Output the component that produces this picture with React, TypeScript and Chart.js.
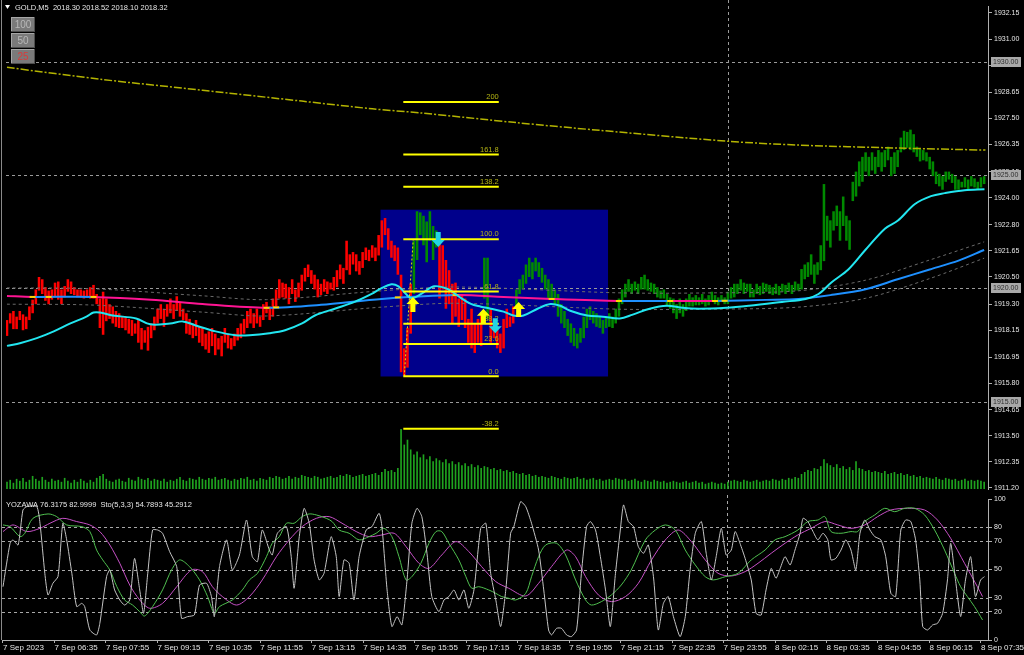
import React, { useEffect, useRef } from "react";
import { Chart, registerables } from "chart.js";

Chart.register(...registerables);

const FONT = "'Liberation Sans', Arial, sans-serif";

// ---------- axes / labels ----------
const xTickLabels = [
  "7 Sep 2023", "7 Sep 06:35", "7 Sep 07:55", "7 Sep 09:15", "7 Sep 10:35", "7 Sep 11:55",
  "7 Sep 13:15", "7 Sep 14:35", "7 Sep 15:55", "7 Sep 17:15", "7 Sep 18:35", "7 Sep 19:55",
  "7 Sep 21:15", "7 Sep 22:35", "7 Sep 23:55", "8 Sep 02:15", "8 Sep 03:35", "8 Sep 04:55",
  "8 Sep 06:15", "8 Sep 07:35",
];
const BARS_PER_LABEL = 16;
const priceTicks = [
  1932.15, 1931.0, 1929.85, 1928.65, 1927.5, 1926.35, 1925.15, 1924.0, 1922.8, 1921.65,
  1920.5, 1919.3, 1918.15, 1916.95, 1915.8, 1914.65, 1913.5, 1912.35, 1911.2,
];
const priceLevels = [1930, 1925, 1920, 1915];
const oscTicks = [100, 80, 70, 50, 30, 20, 0];
const oscLevels = [80, 70, 50, 30, 20];
const headerText = "GOLD,M5  2018.30 2018.52 2018.10 2018.32";
const oscTitle = "YOZAWA 76.3175 82.9999  Sto(5,3,3) 54.7893 45.2912";
const zoomButtons = ["100", "50", "25"];

const X_MIN = -0.31;
const X_MAX = 306.2;
const PRICE_MAX = 1932.457;
const PRICE_MIN = 1911.145;
const VOLUME_MAX = 9860;
const DAY_SEPARATOR = 225.2;

// ---------- price bars (low / high per 5-minute bar) ----------
const barLo = [
  1917.9, 1918.45, 1918.2, 1918.2, 1918.6, 1918.15, 1918.2, 1918.6, 1918.9, 1919.3,
  1919.9, 1919.75, 1919.45, 1919.3, 1919.5, 1919.6, 1919.5, 1919.3, 1919.6, 1919.85,
  1919.75, 1919.7, 1919.6, 1919.6, 1919.55, 1919.6, 1919.55, 1919.55, 1919.3, 1918.25,
  1917.95, 1918.55, 1918.65, 1918.45, 1918.3, 1918.25, 1918.25, 1918.15, 1918.0, 1917.9,
  1918.0, 1917.6, 1917.3, 1917.6, 1917.25, 1917.8, 1918.15, 1918.45, 1918.65, 1918.3,
  1918.75, 1918.9, 1918.65, 1919.0, 1918.75, 1918.6, 1918.0, 1917.95, 1917.8, 1917.9,
  1917.6, 1917.45, 1917.3, 1917.15, 1917.45, 1917.05, 1917.3, 1917.0, 1917.6, 1917.35,
  1917.3, 1917.45, 1917.7, 1917.8, 1918.0, 1918.25, 1918.45, 1918.25, 1918.45, 1918.3,
  1918.6, 1918.9, 1918.6, 1918.75, 1919.2, 1919.55, 1919.6, 1919.55, 1919.3, 1919.75,
  1919.4, 1919.6, 1919.9, 1920.3, 1920.5, 1920.2, 1919.95, 1919.6, 1919.7, 1919.85,
  1919.75, 1919.95, 1919.9, 1920.05, 1920.4, 1920.2, 1920.8, 1920.6, 1921.05, 1920.75,
  1920.6, 1920.9, 1921.25, 1921.2, 1921.35, 1921.2, 1921.45, 1921.8, 1922.35, 1921.7,
  1921.35, 1921.2, 1920.6, 1916.3, 1916.15, 1916.5, 1918.0, 1919.75, 1921.25, 1922.35,
  1921.9, 1921.15, 1922.1, 1921.25, 1921.8, 1919.55, 1919.95, 1919.1, 1919.3, 1918.45,
  1918.75, 1918.3, 1918.6, 1918.25, 1917.6, 1917.35, 1917.15, 1917.6, 1917.45, 1919.55,
  1918.65, 1917.6, 1917.8, 1917.35, 1917.15, 1917.35, 1918.25, 1918.3, 1918.45, 1919.1,
  1919.75, 1919.95, 1920.2, 1920.5, 1920.4, 1920.75, 1920.5, 1920.25, 1919.95, 1919.55,
  1919.55, 1919.3, 1918.75, 1918.45, 1918.25, 1917.9, 1917.6, 1917.45, 1917.35, 1917.6,
  1917.8, 1918.25, 1918.6, 1918.45, 1918.3, 1918.25, 1918.0, 1918.25, 1918.3, 1918.25,
  1918.45, 1918.75, 1919.3, 1919.6, 1919.85, 1919.75, 1919.9, 1919.75, 1919.95, 1919.95,
  1919.9, 1919.85, 1919.75, 1919.6, 1919.55, 1919.55, 1919.2, 1919.1, 1918.9, 1918.65,
  1918.9, 1918.75, 1919.0, 1919.2, 1919.2, 1919.25, 1919.25, 1919.3, 1919.2, 1919.25,
  1919.4, 1919.3, 1919.25, 1919.4, 1919.3, 1919.3, 1919.55, 1919.6, 1919.75, 1919.9,
  1919.75, 1919.85, 1919.6, 1919.6, 1919.75, 1919.7, 1919.75, 1919.85, 1919.75, 1919.7,
  1919.75, 1919.7, 1919.85, 1919.75, 1919.85, 1919.75, 1919.9, 1919.9, 1919.95, 1920.4,
  1920.5, 1920.6, 1920.2, 1920.6, 1920.8, 1921.2, 1922.1, 1921.8, 1922.55, 1922.75,
  1922.1, 1922.75, 1922.1, 1921.7, 1923.85, 1924.05, 1924.5, 1924.7, 1925.15, 1924.95,
  1925.2, 1925.05, 1925.35, 1925.15, 1925.35, 1925.65, 1924.95, 1925.05, 1925.35, 1926.0,
  1926.1, 1926.2, 1926.1, 1926.0, 1925.8, 1925.6, 1925.65, 1925.6, 1925.25, 1924.95,
  1924.6, 1924.5, 1924.35, 1924.7, 1924.8, 1924.65, 1924.35, 1924.35, 1924.45, 1924.45,
  1924.35, 1924.5, 1924.45, 1924.35, 1924.45, 1924.6,
];
const barHi = [
  1918.6, 1918.9, 1919.0, 1918.75, 1919.0, 1918.85, 1918.75, 1919.2, 1919.5, 1919.95,
  1920.5, 1920.4, 1920.05, 1919.9, 1919.95, 1920.25, 1920.3, 1919.95, 1920.1, 1920.4,
  1920.3, 1920.05, 1919.95, 1919.95, 1919.9, 1919.95, 1920.05, 1920.15, 1919.75, 1919.55,
  1919.85, 1919.55, 1919.3, 1919.2, 1919.0, 1918.9, 1918.75, 1918.75, 1918.65, 1918.6,
  1918.45, 1918.6, 1918.25, 1918.15, 1918.3, 1918.45, 1918.75, 1919.1, 1919.3, 1919.1,
  1919.3, 1919.55, 1919.3, 1919.65, 1919.4, 1919.1, 1918.9, 1918.65, 1918.45, 1918.6,
  1918.3, 1918.25, 1918.0, 1918.1, 1918.25, 1918.0, 1917.8, 1917.9, 1918.25, 1918.0,
  1917.8, 1918.0, 1918.25, 1918.45, 1918.65, 1919.0, 1919.1, 1918.9, 1919.1, 1918.75,
  1919.3, 1919.4, 1919.2, 1919.55, 1919.95, 1920.4, 1920.25, 1920.2, 1920.05, 1920.4,
  1919.95, 1920.25, 1920.6, 1920.9, 1921.05, 1920.8, 1920.6, 1920.4, 1920.2, 1920.4,
  1920.3, 1920.25, 1920.5, 1920.8, 1921.05, 1920.9, 1922.1, 1921.5, 1921.6, 1921.5,
  1921.2, 1921.6, 1921.8, 1921.7, 1921.9, 1921.8, 1922.35, 1923.0, 1923.1, 1922.65,
  1922.1, 1921.9, 1921.8, 1920.6, 1917.35, 1918.25, 1920.2, 1922.1, 1923.4, 1923.35,
  1923.2, 1922.95, 1923.4, 1922.75, 1922.55, 1922.1, 1921.9, 1921.25, 1920.8, 1920.2,
  1920.25, 1919.55, 1919.75, 1919.55, 1918.65, 1919.1, 1918.45, 1918.65, 1918.9, 1921.35,
  1921.35, 1919.1, 1918.45, 1918.25, 1918.0, 1918.65, 1919.1, 1918.75, 1919.2, 1919.95,
  1920.4, 1920.6, 1921.05, 1921.35, 1921.15, 1921.35, 1921.15, 1920.9, 1920.6, 1920.4,
  1920.2, 1919.95, 1919.75, 1919.3, 1919.0, 1918.65, 1918.45, 1918.25, 1918.0, 1918.25,
  1918.75, 1919.1, 1919.2, 1919.0, 1918.9, 1918.75, 1918.6, 1918.75, 1918.9, 1918.75,
  1919.1, 1919.55, 1919.95, 1920.2, 1920.4, 1920.2, 1920.3, 1920.2, 1920.5, 1920.6,
  1920.4, 1920.25, 1920.2, 1920.05, 1919.9, 1919.95, 1919.75, 1919.6, 1919.55, 1919.3,
  1919.55, 1919.3, 1919.55, 1919.75, 1919.6, 1919.7, 1919.6, 1919.75, 1919.55, 1919.7,
  1919.85, 1919.7, 1919.6, 1919.7, 1919.6, 1919.85, 1920.05, 1920.2, 1920.2, 1920.4,
  1920.25, 1920.2, 1920.2, 1919.95, 1920.2, 1920.1, 1920.25, 1920.2, 1920.15, 1920.05,
  1920.2, 1920.1, 1920.2, 1920.15, 1920.25, 1920.15, 1920.3, 1920.2, 1920.85, 1921.05,
  1921.15, 1921.5, 1921.05, 1921.15, 1921.9, 1924.6, 1923.2, 1923.0, 1923.4, 1923.65,
  1923.4, 1924.05, 1923.2, 1923.0, 1924.7, 1925.15, 1925.6, 1925.8, 1926.0, 1925.8,
  1926.0, 1925.8, 1926.1, 1926.0, 1926.1, 1926.25, 1925.8, 1926.0, 1926.1, 1926.65,
  1926.95, 1926.9, 1927.0, 1926.8, 1926.25, 1926.15, 1926.1, 1926.0, 1925.8, 1925.6,
  1925.15, 1925.05, 1924.95, 1925.15, 1925.15, 1925.05, 1924.95, 1924.8, 1924.7, 1924.9,
  1924.8, 1924.95, 1924.85, 1924.7, 1924.9, 1924.95,
];
// bar colour signal: [first bar, direction]
const barDir: [number, string][] = [[0, "dn"], [127, "up"], [135, "dn"], [149, "up"], [151, "dn"], [159, "up"]];

// tick volume per bar
const volume = [
  140, 180, 120, 200, 160, 220, 140, 180, 260, 200, 160, 240, 180, 140, 200, 160,
  180, 140, 220, 160, 120, 180, 140, 200, 160, 120, 180, 140, 220, 260, 300, 200,
  160, 140, 180, 200, 160, 140, 220, 180, 160, 240, 200, 180, 220, 160, 200, 180,
  160, 200, 140, 180, 160, 200, 240, 180, 160, 220, 200, 180, 240, 200, 180, 220,
  200, 240, 180, 200, 220, 180, 160, 200, 180, 220, 200, 240, 180, 200, 160, 220,
  200, 180, 240, 220, 260, 240, 200, 220, 260, 200, 240, 220, 280, 260, 240, 220,
  260, 240, 200, 220, 240, 260, 220, 240, 280, 260, 300, 280, 240, 260, 280, 300,
  260, 280, 300, 320, 280, 340, 400, 360, 380, 340, 420, 1220, 900, 1000, 800, 700,
  760, 640, 700, 600, 660, 560, 620, 580, 540, 600, 520, 560, 500, 540, 480, 520,
  460, 500, 440, 480, 420, 460, 440, 400, 420, 380, 400, 360, 380, 340, 360, 320,
  300, 320, 280, 300, 260, 280, 240, 260, 240, 220, 260, 240, 220, 200, 240, 220,
  200, 220, 240, 200, 220, 180, 200, 220, 180, 200, 160, 180, 200, 180, 220, 200,
  180, 200, 160, 180, 200, 160, 140, 180, 160, 140, 180, 160, 140, 160, 120, 140,
  160, 140, 120, 140, 160, 120, 140, 160, 120, 140, 100, 120, 140, 120, 100, 120,
  100, 140, 160, 180, 160, 140, 180, 160, 140, 160, 180, 140, 160, 180, 160, 200,
  180, 160, 200, 180, 220, 200, 240, 220, 300, 340, 380, 360, 420, 400, 460, 600,
  520, 480, 440, 500, 420, 460, 400, 440, 380, 560, 420, 400, 360, 380, 340, 360,
  340, 320, 360, 300, 320, 340, 300, 320, 280, 300, 260, 280, 240, 260, 220, 240,
  220, 200, 240, 200, 180, 220, 200, 180, 200, 160, 180, 200, 160, 180, 160, 180,
  160, 140,
];

// ---------- indicator lines: [bar, value] ----------
const maFast = [
  [0, 1917.46], [4.3, 1917.59], [9.3, 1917.8], [14.6, 1918.1], [19.8, 1918.45], [24.8, 1918.75],
  [27, 1918.93], [29, 1918.93], [33, 1918.8], [40.3, 1918.67], [44.7, 1918.41], [50.9, 1918.45],
  [54.9, 1918.54], [58.9, 1918.36], [65.1, 1918.1], [71.3, 1917.93], [75.7, 1917.93], [81.9, 1918.02],
  [86.8, 1918.15], [92.1, 1918.45], [96.1, 1918.8], [102.3, 1919.1], [108.5, 1919.4], [113.8, 1919.75],
  [116.9, 1920.01], [120, 1920.18], [122.2, 1920.09], [124, 1919.83], [126.2, 1919.57], [129.3, 1919.75],
  [133.3, 1920.09], [137.7, 1919.96], [140.8, 1919.66], [144.8, 1919.31], [147.9, 1919.19], [151, 1919.1],
  [155, 1918.97], [158.1, 1918.8], [161.2, 1918.8], [165.6, 1919.1], [169.6, 1919.31], [172.7, 1919.23],
  [175.8, 1919.01], [181.1, 1918.8], [186, 1918.75], [191.3, 1918.67], [195.3, 1918.84], [200.6, 1919.1],
  [205.9, 1919.23], [210.9, 1919.14], [216.1, 1919.1], [224.5, 1919.14], [231.6, 1919.23], [241.9, 1919.4],
  [249.3, 1919.53], [253.3, 1919.75], [257.4, 1920.27], [262.6, 1920.83], [267.9, 1921.69], [274.1, 1922.64],
  [278.1, 1922.99], [283.4, 1923.72], [288.4, 1924.07], [292.7, 1924.2], [298.9, 1924.33], [305.1, 1924.37],
];
const maSlow = [
  [0, 1919.66], [8, 1919.62], [27, 1919.62], [45, 1919.5], [61, 1919.31], [81, 1919.14], [98, 1919.27],
  [117, 1919.53], [140, 1919.7], [155, 1919.62], [170, 1919.53], [191, 1919.44], [207, 1919.44],
  [221, 1919.44], [237, 1919.49], [247, 1919.53], [257, 1919.7], [268, 1919.96], [278, 1920.4],
  [288, 1920.83], [297, 1921.22], [305, 1921.69],
];
const maSlowDir: [number, string][] = [
  [0, "dn"], [8, "up"], [27, "dn"], [81, "up"], [140, "dn"], [191, "up"], [207, "dn"], [221, "up"],
];
const maSlowMarks = [
  [8, 1919.62], [13, 1919.62], [27, 1919.62], [81, 1919.14], [84, 1919.16], [122, 1919.6],
  [140, 1919.7], [170, 1919.53], [191, 1919.44], [207, 1919.44], [221, 1919.44], [224, 1919.45],
];
const envUpper = [
  [0, 1920.02], [27, 1919.98], [61, 1919.67], [81, 1919.5], [117, 1919.89], [140, 1920.06],
  [191, 1919.8], [221, 1919.8], [247, 1919.89], [268, 1920.36], [288, 1921.25], [305, 1922.05],
];
const envLower = [
  [0, 1919.3], [27, 1919.26], [61, 1918.95], [81, 1918.78], [117, 1919.17], [140, 1919.34],
  [191, 1919.08], [221, 1919.08], [247, 1919.17], [268, 1919.56], [288, 1920.43], [305, 1921.33],
];
const trendLine = [
  [0, 1929.75], [30, 1929.21], [61, 1928.74], [92, 1928.26], [114, 1927.92], [129, 1927.74],
  [159, 1927.31], [185, 1926.97], [225, 1926.49], [247, 1926.32], [278, 1926.19], [305.4, 1926.1],
];

// ---------- objects ----------
const rectangle = { fromBar: 116.6, toBar: 187.6, high: 1923.47, low: 1916.11 };
const fibLow = 1916.12;
const fibHigh = 1922.17;
const fibAnchorBars = [124, 126.8];
const fibFromBar = 123.7;
const fibToBar = 153.5;
const fibLevels = [0, 23.6, 38.2, 61.8, 100, 138.2, 161.8, 200, -38.2];
const fibLabels = ["0.0", "23.6", "38.2", "61.8", "100.0", "138.2", "161.8", "200", "-38.2"];
const upArrows = [[126.7, 1919.62], [148.7, 1919.1], [159.7, 1919.4]];
const downArrows = [[134.6, 1921.82], [152.4, 1918.02]];

// ---------- oscillator lines ----------
const yozawa = [
  [0, 37.8], [2.2, 68.6], [3.1, 71], [4.7, 67.4], [6.2, 92.2], [7.4, 94.6], [10.5, 94.6], [11.5, 82.8],
  [13, 47.3], [14, 31.9], [15.5, 40.2], [17.1, 45], [18.6, 82.8], [19.8, 71], [21.4, 47.3], [22.9, 23.7],
  [24.5, 26], [25.4, 23.7], [27, 7.1], [29.1, 3.6], [30.1, 11.8], [32.2, 45], [33.2, 49.7], [34.7, 35.5],
  [36.3, 28.4], [37.8, 24.8], [39.4, 28.4], [40.9, 57.9], [42.5, 35.5], [43.7, 18.9], [45, 47.3], [46.5, 78],
  [48.1, 78], [49.6, 75.7], [51.8, 62.7], [54, 52], [55.5, 15.4], [57.4, 16.6], [59.5, 17.8], [61.1, 39],
  [63.3, 40.2], [64.8, 30.8], [65.7, 16.6], [67.3, 52], [69.5, 71], [71.3, 49.7], [73.5, 60.3], [75.7, 85.1],
  [77.5, 59.1], [79.1, 55.6], [80.6, 78], [82.8, 63.8], [83.7, 60.3], [85.3, 75.7], [88.1, 80.4], [89.6, 59.1],
  [90.5, 36.7], [92.1, 73.3], [93.6, 93.4], [95.2, 82.8], [96.7, 56.8], [98.3, 42.6], [99.8, 47.3], [102, 73.3],
  [103.6, 59.1], [104.5, 30.8], [106, 56.8], [107.6, 54.4], [109.1, 28.4], [110.7, 59.1], [112.9, 78], [114.7, 80.4],
  [116.9, 89.9], [117.8, 80.4], [119.4, 35.5], [120.9, 9.5], [122.5, 16.6], [124, 10.7], [125.6, 42.6], [127.1, 82.8],
  [128.7, 93.4], [130.2, 87.5], [131.8, 61.5], [133.3, 30.8], [135.5, 20.1], [137.1, 28.4], [138.6, 30.8], [140.2, 35.5],
  [141.7, 28.4], [143.3, 35.5], [144.8, 22.5], [146.4, 35.5], [148.5, 79.2], [150.1, 82.8], [151.6, 47.3], [153.2, 28.4],
  [154.7, 9.5], [156.3, 35.5], [157.8, 75.7], [158.8, 80.4], [160.9, 98.1], [162.5, 94.6], [164.3, 82.8], [166.5, 63.8],
  [168.1, 35.5], [169.6, 7.1], [170.5, 3.6], [172.1, 8.3], [173.6, 8.3], [175.2, 3.6], [176.7, 2.4], [178.3, 7.1],
  [179.8, 47.3], [181.4, 80.4], [182.6, 84], [184.2, 78], [185.7, 59.1], [187.3, 35.5], [188.8, 9.5], [190.4, 47.3],
  [191.9, 78], [192.9, 95.8], [194.4, 84], [196, 80.4], [197.5, 66.2], [199.1, 61.5], [200.6, 67.4], [202.2, 44.9],
  [203.7, 7.1], [205.3, 26], [206.8, 30.8], [208.4, 16.6], [210.5, 2.4], [212.1, 16.6], [213.6, 49.7], [215.2, 75.7],
  [217.1, 84], [218.6, 61.5], [220.2, 42.6], [221.7, 59.1], [223.3, 79.2], [224.8, 60.3], [226.4, 63.8], [227.6, 76.9],
  [229.1, 68.6], [230.7, 57.9], [232.6, 42.6], [234.1, 18.9], [235.7, 17.7], [237.2, 35.5], [238.8, 50.8], [240.3, 43.8],
  [241.6, 50.8], [243.1, 59.1], [244.7, 53.2], [246.2, 63.8], [247.8, 75.7], [248.7, 86.3], [250.2, 84], [251.8, 76.9],
  [253.3, 71], [254.9, 75.7], [256.4, 71], [257.4, 56.8], [258.9, 57.9], [260.5, 63.8], [262, 71], [263.6, 63.8],
  [265.1, 49.7], [266.4, 75.7], [267.9, 85.1], [269.5, 78], [271, 73.3], [272.9, 71], [274.4, 59.1], [276, 33.1],
  [277.5, 30.8], [279.1, 78], [280.6, 85.1], [282.2, 84], [283.7, 71], [285, 42.6], [285.9, 9.5], [287.4, 7.1],
  [289, 10.7], [290.5, 11.8], [292.1, 18.9], [293.6, 42.6], [294.6, 68.6], [296.1, 42.6], [297.7, 16.6], [299.2, 42.6],
  [300.8, 59.1], [302.3, 30.8], [303.9, 42.6], [305.1, 44.9],
];
const stoMain = [
  [0, 81.6], [2.2, 80.4], [5.3, 73.3], [6.8, 75.7], [9.3, 86.3], [14, 89.4], [16.7, 87.5], [19.8, 81.6],
  [24.5, 80.4], [27, 76.9], [29.1, 63.8], [31, 56.8], [33.2, 49.7], [35.4, 37.8], [37.8, 28.4], [40.3, 24.8],
  [42.5, 20.1], [44, 17], [46.5, 23.7], [49.6, 35.5], [52.4, 49.7], [54.9, 56.8], [58, 52], [61.1, 42.6],
  [63.6, 30.8], [65.7, 18.9], [67.3, 23.7], [71.3, 28.4], [74.4, 35.5], [76.6, 42.6], [79.1, 47.3], [81.9, 59.1],
  [83.7, 68.6], [85.9, 73.3], [88.1, 82.8], [90.5, 82.8], [93, 87.5], [95.2, 89.4], [97.4, 88.7], [100.5, 86.3],
  [102.3, 84], [104.5, 78], [107.6, 75.7], [110.7, 71], [113.8, 73.3], [116, 75.7], [118.4, 79.2], [120.9, 73.3],
  [123.1, 59.1], [125.3, 42.6], [127.1, 44.9], [129.9, 54.4], [132.4, 68.6], [134.6, 76.9], [136.4, 76.9], [138.6, 68.6],
  [141.7, 56.8], [143.9, 44.9], [145.7, 36.7], [147.9, 37.8], [151, 35.5], [153.2, 33.1], [155, 30.8], [157.2, 29.6],
  [159.4, 28.4], [162.5, 33.1], [164.3, 44.9], [166.5, 59.1], [168.7, 67.4], [172.1, 68.6], [174.9, 60.3], [178, 42.6],
  [181.1, 28.4], [182.9, 24.8], [186, 27.2], [189.1, 31.9], [192.2, 39], [195.3, 49.7], [199.7, 71], [202.8, 78],
  [205.9, 81.6], [209, 78], [212.1, 63.8], [215.2, 53.2], [218.3, 44.9], [220.8, 42.6], [224.5, 44.9], [228.5, 47.3],
  [232.6, 56.8], [236.9, 63.8], [240, 71], [243.1, 73.3], [247.1, 78], [250.2, 84], [253.3, 85.1], [255.5, 87.5],
  [257.4, 76.9], [260.5, 75.7], [263.6, 76.9], [265.7, 76.9], [267.9, 84], [271, 88.7], [274.1, 93.4], [277.2, 91],
  [280.3, 93.4], [283.4, 93.4], [286.5, 88.7], [289.6, 78], [292.7, 63.8], [295.8, 47.3], [297.7, 37.8], [299.8, 30.8],
  [302, 23.7], [304.5, 14.2],
];
const stoSignal = [
  [0, 76.9], [3.1, 81.6], [7.4, 76.9], [11.5, 79.2], [14.6, 82.8], [18.6, 86.3], [22.9, 84], [27, 81.6],
  [30.1, 76.9], [33.2, 67.4], [36.3, 54.4], [39.4, 39], [42.5, 28.4], [45.6, 22.5], [49.6, 26], [54, 37.8],
  [58.6, 49.7], [62, 48.5], [65.1, 37.8], [68.2, 30.8], [72.6, 24.8], [76.6, 30.8], [80.6, 42.6], [85, 59.1],
  [89, 71], [93, 80.4], [97.4, 86.3], [101.4, 87.5], [105.4, 82.8], [109.8, 76.9], [113.8, 73.3], [117.8, 74.5],
  [121.6, 75.7], [125.3, 66.2], [129.3, 54.4], [132.4, 50.8], [136.4, 60.3], [140.8, 69.8], [144.8, 62.7], [148.8, 52],
  [153.2, 41.4], [157.2, 36.7], [162.5, 31.2], [166.5, 40.2], [170.5, 52], [175.2, 63.8], [178, 59.1], [181.1, 44.9],
  [185.1, 31.9], [189.1, 27.2], [193.5, 30.8], [197.5, 40.2], [201.6, 56.8], [205.9, 71], [209.9, 78], [214, 69.8],
  [218.3, 56.8], [222.3, 47.3], [226.4, 45.4], [230.7, 48.5], [234.7, 54.4], [238.8, 61.5], [243.1, 68.6], [247.1, 74.5],
  [251.2, 79.2], [255.5, 84], [259.5, 81.6], [263.6, 79.2], [267.9, 81.6], [271.9, 87.5], [276, 92.2], [281.2, 93.4],
  [286.5, 92.2], [290.5, 85.1], [294.6, 72.1], [298.9, 54.4], [302.9, 37.8], [304.5, 30.8],
];

// ---------- helpers ----------
const pts = (arr: number[][]) => arr.map(([x, y]) => ({ x, y }));
const dirAt = (segs: [number, string][], i: number) => {
  let d = segs[0][1];
  for (const [s, v] of segs) if (i >= s) d = v;
  return d;
};
const fibPrice = (lvl: number) => fibLow + ((fibHigh - fibLow) * lvl) / 100;

function drawArrow(ctx: CanvasRenderingContext2D, cx: number, tip: number, up: boolean, color: string) {
  const s = up ? 1 : -1;
  ctx.fillStyle = color;
  ctx.beginPath();
  ctx.moveTo(cx, tip);
  ctx.lineTo(cx - 6.5, tip + s * 7);
  ctx.lineTo(cx - 2.5, tip + s * 7);
  ctx.lineTo(cx - 2.5, tip + s * 15);
  ctx.lineTo(cx + 2.5, tip + s * 15);
  ctx.lineTo(cx + 2.5, tip + s * 7);
  ctx.lineTo(cx + 6.5, tip + s * 7);
  ctx.closePath();
  ctx.fill();
}

const mainPlugin = {
  id: "mainDecor",
  beforeDatasetsDraw(chart: any) {
    const { ctx, chartArea: a } = chart;
    const x = chart.scales.x, y = chart.scales.y;
    ctx.save();
    const rx0 = x.getPixelForValue(rectangle.fromBar);
    const rx1 = x.getPixelForValue(rectangle.toBar);
    const ry0 = y.getPixelForValue(rectangle.high);
    const ry1 = y.getPixelForValue(rectangle.low);
    ctx.fillStyle = "#00008b";
    ctx.fillRect(rx0, ry0, rx1 - rx0, ry1 - ry0);
    ctx.strokeStyle = "#9a9a9a";
    ctx.lineWidth = 1;
    ctx.setLineDash([3, 3]);
    for (const v of priceLevels) {
      const py = Math.round(y.getPixelForValue(v)) + 0.5;
      ctx.beginPath();
      ctx.moveTo(a.left, py);
      ctx.lineTo(a.right, py);
      ctx.stroke();
    }
    const sx = Math.round(x.getPixelForValue(DAY_SEPARATOR)) + 0.5;
    ctx.beginPath();
    ctx.moveTo(sx, 0);
    ctx.lineTo(sx, a.bottom);
    ctx.stroke();
    ctx.restore();
  },
  afterDatasetsDraw(chart: any) {
    const { ctx } = chart;
    const x = chart.scales.x, y = chart.scales.y;
    ctx.save();
    ctx.font = `7.5px ${FONT}`;
    ctx.fillStyle = "#b4b414";
    ctx.textAlign = "right";
    ctx.textBaseline = "bottom";
    const lx = x.getPixelForValue(fibToBar);
    fibLevels.forEach((lvl, k) => {
      ctx.fillText(fibLabels[k], lx, y.getPixelForValue(fibPrice(lvl)) - 1);
    });
    for (const [b, p] of upArrows) drawArrow(ctx, x.getPixelForValue(b), y.getPixelForValue(p), true, "#ffff00");
    for (const [b, p] of downArrows) drawArrow(ctx, x.getPixelForValue(b), y.getPixelForValue(p), false, "#22d4e4");
    ctx.restore();
  },
  afterDraw(chart: any) {
    const { ctx } = chart;
    const y = chart.scales.y;
    ctx.save();
    // highlighted price labels
    ctx.font = `7px ${FONT}`;
    ctx.textBaseline = "middle";
    ctx.textAlign = "left";
    for (const v of priceLevels) {
      const py = Math.round(y.getPixelForValue(v));
      ctx.fillStyle = "#a9a9a9";
      ctx.fillRect(991, py - 5, 30, 10);
      ctx.fillStyle = "#2e2e2e";
      ctx.fillText(v.toFixed(2), 993, py + 0.5);
    }
    // left frame
    ctx.fillStyle = "#8a8a8a";
    ctx.fillRect(1, 0, 1, chart.height);
    // header
    ctx.fillStyle = "#ffffff";
    ctx.beginPath();
    ctx.moveTo(5, 5);
    ctx.lineTo(10, 5);
    ctx.lineTo(7.5, 9);
    ctx.closePath();
    ctx.fill();
    ctx.font = `7.5px ${FONT}`;
    ctx.fillStyle = "#e6e6e6";
    ctx.fillText(headerText, 15, 7.5);
    // zoom buttons
    zoomButtons.forEach((label, k) => {
      const by = 17 + k * 16;
      ctx.fillStyle = "#7a7a7a";
      ctx.fillRect(11, by, 24, 15);
      ctx.fillStyle = "#a6a6a6";
      ctx.fillRect(11, by, 24, 1);
      ctx.fillRect(11, by, 1, 15);
      ctx.fillStyle = "#4e4e4e";
      ctx.fillRect(11, by + 14, 24, 1);
      ctx.fillRect(34, by, 1, 15);
      ctx.font = `10px ${FONT}`;
      ctx.textAlign = "center";
      ctx.fillStyle = label === "25" ? "#d83c3c" : "#b8b8b8";
      ctx.fillText(label, 23, by + 8);
      ctx.textAlign = "left";
    });
    ctx.restore();
  },
};

const oscPlugin = {
  id: "oscDecor",
  beforeDatasetsDraw(chart: any) {
    const { ctx, chartArea: a } = chart;
    const x = chart.scales.x, y = chart.scales.y;
    ctx.save();
    ctx.strokeStyle = "#a8a8a8";
    ctx.lineWidth = 1;
    ctx.setLineDash([3, 3]);
    for (const v of oscLevels) {
      const py = Math.round(y.getPixelForValue(v)) + 0.5;
      ctx.beginPath();
      ctx.moveTo(a.left, py);
      ctx.lineTo(a.right, py);
      ctx.stroke();
    }
    const sx = Math.round(x.getPixelForValue(DAY_SEPARATOR)) + 0.5;
    ctx.beginPath();
    ctx.moveTo(sx, 0);
    ctx.lineTo(sx, a.bottom);
    ctx.stroke();
    ctx.restore();
  },
  afterDraw(chart: any) {
    const { ctx } = chart;
    ctx.save();
    ctx.fillStyle = "#8a8a8a";
    ctx.fillRect(1, 0, 1, chart.chartArea.bottom);
    ctx.font = `7.5px ${FONT}`;
    ctx.fillStyle = "#e6e6e6";
    ctx.textBaseline = "middle";
    ctx.fillText(oscTitle, 6, 10);
    ctx.restore();
  },
};

function mainConfig(): any {
  const fibSets = fibLevels.map((lvl) => ({
    type: "line",
    data: [{ x: fibFromBar, y: fibPrice(lvl) }, { x: fibToBar, y: fibPrice(lvl) }],
    borderColor: "#ffff00",
    borderWidth: 2,
    pointRadius: 0,
    order: 3,
  }));
  return {
    type: "bar",
    data: {
      datasets: [
        {
          type: "line", data: pts(maFast), borderColor: "#22e6f0", borderWidth: 2,
          pointRadius: 0, tension: 0.35, order: 4,
        },
        {
          type: "line", data: pts(maSlowMarks), showLine: false, pointStyle: "line",
          pointRadius: 3, pointBorderColor: "#ffd400", pointBorderWidth: 2, order: 5,
        },
        {
          type: "line", data: pts(maSlow), borderColor: "#1e90ff", borderWidth: 2,
          pointRadius: 0, tension: 0.3, order: 6,
          segment: { borderColor: (c: any) => (dirAt(maSlowDir, c.p0.parsed.x) === "up" ? "#1e90ff" : "#ff1493") },
        },
        ...fibSets,
        {
          type: "line",
          data: [{ x: fibAnchorBars[0], y: fibLow }, { x: fibAnchorBars[1], y: fibHigh }],
          borderColor: "#e6e600", borderWidth: 1, borderDash: [2, 2], pointRadius: 0, order: 3,
        },
        {
          type: "line", data: pts(envUpper), borderColor: "#6a6a6a", borderWidth: 1,
          borderDash: [3, 3], pointRadius: 0, tension: 0.3, order: 7,
        },
        {
          type: "line", data: pts(envLower), borderColor: "#6a6a6a", borderWidth: 1,
          borderDash: [3, 3], pointRadius: 0, tension: 0.3, order: 7,
        },
        {
          type: "line", data: pts(trendLine), borderColor: "#b4b400", borderWidth: 1.5,
          borderDash: [8, 2, 2, 2], pointRadius: 0, tension: 0.3, order: 8,
        },
        {
          type: "bar",
          data: barLo.map((lo, i) => ({ x: i, y: [lo, barHi[i]] })),
          backgroundColor: (c: any) => (dirAt(barDir, c.dataIndex) === "up" ? "#008a00" : "#ff0000"),
          grouped: false, categoryPercentage: 1, barPercentage: 0.8, borderWidth: 0, order: 9,
        },
        {
          type: "bar", yAxisID: "yv",
          data: volume.map((v, i) => ({ x: i, y: v })),
          backgroundColor: "#1fa31f", grouped: false, categoryPercentage: 1, barPercentage: 1,
          maxBarThickness: 1, borderWidth: 0, order: 10,
        },
      ],
    },
    options: {
      responsive: false,
      animation: false,
      events: [],
      layout: { padding: { left: 2, top: 1, right: 0, bottom: 1 } },
      plugins: { legend: { display: false }, tooltip: { enabled: false } },
      scales: {
        x: { type: "linear", min: X_MIN, max: X_MAX, display: false, offset: false },
        y: {
          type: "linear", position: "right", min: PRICE_MIN, max: PRICE_MAX,
          afterBuildTicks: (s: any) => { s.ticks = priceTicks.map((v) => ({ value: v })); },
          afterFit: (s: any) => { s.width = 36; s.paddingTop = 0; s.paddingBottom = 0; },
          ticks: {
            color: "#e6e6e6", font: { family: FONT, size: 7 }, padding: 2, autoSkip: false,
            callback: (v: any) => Number(v).toFixed(2),
          },
          grid: { drawOnChartArea: false, color: "#b0b0b0", tickLength: 4 },
          border: { color: "#b0b0b0" },
        },
        yv: { type: "linear", display: false, min: 0, max: VOLUME_MAX, position: "left" },
      },
    },
    plugins: [mainPlugin],
  };
}

function oscConfig(): any {
  return {
    type: "line",
    data: {
      datasets: [
        { data: pts(yozawa), borderColor: "#c4c4c4", borderWidth: 1, pointRadius: 0, tension: 0.2 },
        { data: pts(stoMain), borderColor: "#4fbf4f", borderWidth: 1, pointRadius: 0, tension: 0.3 },
        { data: pts(stoSignal), borderColor: "#c650c6", borderWidth: 1, pointRadius: 0, tension: 0.3 },
      ],
    },
    options: {
      responsive: false,
      animation: false,
      events: [],
      layout: { padding: { left: 2, top: 4, right: 0, bottom: 0 } },
      plugins: { legend: { display: false }, tooltip: { enabled: false } },
      scales: {
        x: {
          type: "linear", min: X_MIN, max: X_MAX, position: "bottom", offset: false,
          afterBuildTicks: (s: any) => { s.ticks = xTickLabels.map((_, k) => ({ value: k * BARS_PER_LABEL })); },
          afterFit: (s: any) => { s.height = 15; s.paddingLeft = 0; s.paddingRight = 0; },
          ticks: {
            callback: (v: any) => xTickLabels[Math.round(v / BARS_PER_LABEL)] ?? "",
            align: "start", maxRotation: 0, minRotation: 0, autoSkip: false,
            color: "#e6e6e6", font: { family: FONT, size: 8 }, padding: 0,
          },
          grid: { drawOnChartArea: false, color: "#b0b0b0", tickLength: 3 },
          border: { color: "#b0b0b0" },
        },
        y: {
          type: "linear", position: "right", min: 0, max: 100,
          afterBuildTicks: (s: any) => { s.ticks = oscTicks.map((v) => ({ value: v })); },
          afterFit: (s: any) => { s.width = 36; s.paddingTop = 0; s.paddingBottom = 0; },
          ticks: { color: "#e6e6e6", font: { family: FONT, size: 7 }, padding: 2, autoSkip: false },
          grid: { drawOnChartArea: false, color: "#b0b0b0", tickLength: 4 },
          border: { color: "#b0b0b0" },
        },
      },
    },
    plugins: [oscPlugin],
  };
}

export default function App() {
  const mainRef = useRef<HTMLCanvasElement>(null);
  const oscRef = useRef<HTMLCanvasElement>(null);
  useEffect(() => {
    Chart.defaults.font.family = FONT;
    const c1 = new Chart(mainRef.current as HTMLCanvasElement, mainConfig());
    const c2 = new Chart(oscRef.current as HTMLCanvasElement, oscConfig());
    return () => {
      c1.destroy();
      c2.destroy();
    };
  }, []);
  return (
    <div style={{ position: "fixed", left: 0, top: 0, width: 1024, height: 655, background: "#000", overflow: "hidden" }}>
      <canvas ref={mainRef} width={1024} height={495}
        style={{ position: "absolute", left: 0, top: 0, width: 1024, height: 495 }} />
      <canvas ref={oscRef} width={1024} height={160}
        style={{ position: "absolute", left: 0, top: 495, width: 1024, height: 160 }} />
    </div>
  );
}
